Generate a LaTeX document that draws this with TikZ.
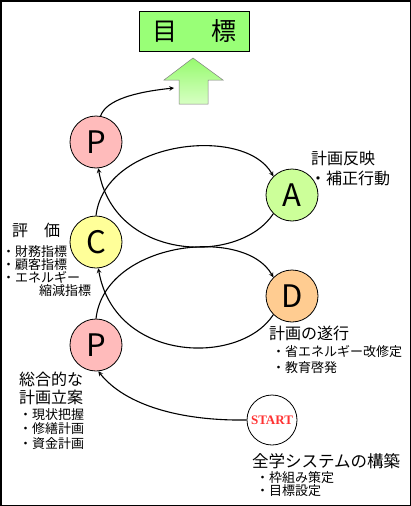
\documentclass[tikz,border=0pt]{standalone}
\usepackage{fontspec}
\setmainfont{Noto Sans CJK JP}
\newfontfamily\startfont{Liberation Serif}
\usepackage{tikz}
\usetikzlibrary{arrows.meta}
\definecolor{goalGreen}{RGB}{153,255,119}
\definecolor{arrowTop}{RGB}{150,250,110}
\definecolor{arrowBottom}{RGB}{215,255,195}
\definecolor{planPink}{RGB}{255,187,187}
\definecolor{checkYellow}{RGB}{255,255,153}
\definecolor{actGreen}{RGB}{204,255,153}
\definecolor{doOrange}{RGB}{255,204,145}
\definecolor{startRed}{RGB}{255,51,51}
\tikzstyle{fGoal} = [rectangle, minimum width=110pt, minimum height=40pt, inner sep=0pt, draw=black, line width=1pt, fill=goalGreen]
\tikzstyle{fPhase} = [circle, minimum size=52pt, inner sep=0pt, draw=black, line width=0.8pt, font=\fontsize{31pt}{31pt}\selectfont]
\tikzstyle{fTitle} = [anchor=base west, inner sep=0pt, align=left, font=\fontsize{16pt}{18pt}\selectfont]
\tikzstyle{fItems} = [anchor=base west, inner sep=0pt, align=left, font=\fontsize{13pt}{13pt}\selectfont]
\tikzstyle{fArrow} = [line width=1.1pt,->,>=stealth]

\begin{document}
\begin{tikzpicture}[x=1pt, y=-1pt, node distance=100pt]
    \useasboundingbox (0,0) rectangle (411,506);
    \draw [line width=1.5pt] (0.75,0.75) rectangle (410.25,505.25);

    \node (goal) [fGoal, font=\fontsize{25pt}{25pt}\selectfont] at (194,31) {目\hspace{34pt}標};
    \shadedraw [top color=arrowTop, bottom color=arrowBottom, draw=black!50, line width=0.5pt]
        (193,58) -- (223,80) -- (208,80) -- (208,104) -- (179,104) -- (179,80) -- (164,80) -- cycle;
    \coordinate (goalIn) at (174,88);

    \node (pAim) [fPhase, fill=planPink] at (96,142) {P};
    \node (cEval) [fPhase, fill=checkYellow, below of=pAim] {C};
    \node (pPlan) [fPhase, fill=planPink, below of=cEval, yshift=-3pt] {P};
    \node (aAct) [fPhase, fill=actGreen] at (292,195) {A};
    \node (dDo) [fPhase, fill=doOrange, below of=aAct, yshift=-1pt] {D};
    \node (start) [fPhase, fill=white, minimum size=50pt, font=\startfont\bfseries\fontsize{13pt}{13pt}\selectfont, text=startRed] at (272,420) {START};

    % multi-line texts sit on the baseline of their last line
    \node (aTitle) [fTitle] at (311,164) {計画反映};
    \node (aItems) [fTitle] at (310,184) {・補正行動};
    \node (cTitle) [fTitle] at (12,236) {評　価};
    \node (cItems) [fItems] at (2,295) {・財務指標\\・顧客指標\\・エネルギー\\\hspace*{37pt}縮減指標};
    \node (dTitle) [fTitle] at (269,339) {計画の遂行};
    \node (dItems) [fItems, font=\fontsize{13pt}{16pt}\selectfont] at (272,372) {・省エネルギー改修定\\・教育啓発};
    \node (pTitle) [fTitle] at (19,403) {総合的な\\計画立案};
    \node (pItems) [fItems, font=\fontsize{13pt}{14.5pt}\selectfont] at (19,448) {・現状把握\\・修繕計画\\・資金計画};
    \node (sTitle) [fTitle, font=\fontsize{16.5pt}{18pt}\selectfont] at (252,467) {全学システムの構築};
    \node (sItems) [fItems, font=\fontsize{13pt}{13.5pt}\selectfont] at (256,495.5) {・枠組み策定\\・目標設定};

    \draw [fArrow] (pAim.80) .. controls (106,100) and (135,92) .. (goalIn);
    \draw [fArrow] (cEval.north) .. controls (105,140) and (245,125) .. (aAct.north west);
    \draw [fArrow] (aAct.south west) .. controls (240,265) and (115,262) .. (pAim.-85);
    \draw [fArrow] (pPlan.north) .. controls (105,241) and (245,226) .. (dDo.north west);
    \draw [fArrow] (dDo.south west) .. controls (240,366) and (115,363) .. (cEval.-85);
    \draw [fArrow] (start.west) .. controls (180,421) and (125,405) .. (pPlan.-85);
\end{tikzpicture}
\end{document}
